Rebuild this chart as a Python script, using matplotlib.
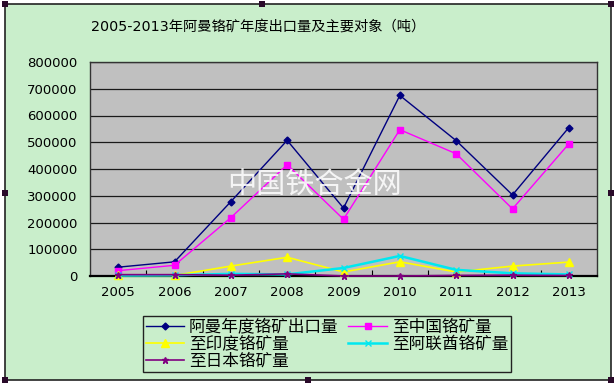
import matplotlib
matplotlib.use("Agg")
import matplotlib.pyplot as plt
from matplotlib.patches import Rectangle

plt.rcParams['font.family'] = ['Noto Sans CJK SC', 'DejaVu Sans']

# data (tonnes)
years = ['2005', '2006', '2007', '2008', '2009', '2010', '2011', '2012', '2013']
oman_total = [33000, 53000, 278000, 507000, 254000, 675000, 506000, 303000, 555000]
to_china = [20000, 40000, 218000, 416000, 212000, 547000, 457000, 251000, 494000]
to_india = [2000, 2000, 37000, 70000, 15000, 53000, 15000, 37000, 52000]
to_uae = [2000, 3000, 8000, 6000, 30000, 75000, 23000, 10000, 6000]
to_japan = [5000, 5000, 3000, 8000, 0, 0, 2000, 3000, 2000]
series_names = ['阿曼年度铬矿出口量', '至中国铬矿量', '至印度铬矿量', '至阿联酋铬矿量', '至日本铬矿量']
y_ticks = [0, 100000, 200000, 300000, 400000, 500000, 600000, 700000, 800000]

green = '#c9eecb'
W, H = 616, 384

fig = plt.figure(figsize=(W / 100, H / 100), dpi=100)
fig.patch.set_facecolor('white')

# chart area frame
fig.patches.append(Rectangle((5 / W, 1 - 380 / H), 606 / W, 376 / H, transform=fig.transFigure,
                             facecolor=green, edgecolor='#222222', lw=1.2, zorder=-5))
# selection handles
for hx, hy in [(5, 4), (611, 4), (5, 380), (611, 380), (5, 193), (611, 193), (262, 4), (308, 380)]:
    fig.patches.append(Rectangle(((hx - 3) / W, 1 - (hy + 3) / H), 6 / W, 6 / H, transform=fig.transFigure,
                                 facecolor='#2a0a2a', edgecolor='none', zorder=10))

ax = fig.add_axes([90 / W, 1 - 276 / H, 507 / W, 214 / H])
ax.set_facecolor('#c0c0c0')

x = list(range(len(years)))
styles = [
    (oman_total, '#000080', 'D', 3.5, 1.0),
    (to_china, '#ff00ff', 's', 5, 1.0),
    (to_india, '#ffff00', '^', 6, 1.2),
    (to_uae, '#00e8f0', 'x', 5, 1.8),
    (to_japan, '#800080', '*', 5, 1.2),
]
handles = []
for (vals, col, mk, ms, lw), name in zip(styles, series_names):
    h, = ax.plot(x, vals, color=col, marker=mk, markersize=ms, lw=lw,
                 markeredgecolor=col, markerfacecolor=col, label=name, clip_on=False, zorder=3)
    handles.append(h)

ax.set_xlim(-0.5, len(years) - 0.5)
ax.set_ylim(0, 800000)
ax.set_yticks(y_ticks)
ax.set_yticklabels([str(v) for v in y_ticks], fontsize=9.5, family='DejaVu Sans')
ax.grid(axis='y', color='#1a1a1a', lw=0.9)
ax.set_axisbelow(True)
ax.tick_params(axis='y', length=0, pad=9)

ax.set_xticks([i + 0.5 for i in range(len(years) - 1)])
ax.set_xticklabels([])
ax.tick_params(axis='x', which='major', direction='in', length=4, color='black')
ax.set_xticks(x, minor=True)
ax.set_xticklabels(years, minor=True, fontsize=9.5, family='DejaVu Sans')
ax.tick_params(axis='x', which='minor', length=0, pad=7)

for s in ax.spines.values():
    s.set_color('#333333')
    s.set_linewidth(1.0)
ax.spines['bottom'].set_color('black')
ax.spines['bottom'].set_linewidth(1.6)

fig.text(258 / W, 1 - 27 / H, '2005-2013年阿曼铬矿年度出口量及主要对象（吨）',
         ha='center', va='center', fontsize=10.3, family=['DejaVu Sans', 'Noto Sans CJK SC'])

# watermark
fig.text(315 / W, 1 - 185 / H, '中国铁合金网', ha='center', va='center',
         fontsize=21, color='white', alpha=0.85, zorder=6)

order = [0, 2, 4, 1, 3]
leg = fig.legend([handles[i] for i in order], [series_names[i] for i in order],
                 ncol=2, loc='upper left', bbox_to_anchor=(143 / W, 1 - 316 / H),
                 fontsize=12, frameon=True, fancybox=False, facecolor=green,
                 edgecolor='#222222', framealpha=1, borderpad=0.15, labelspacing=0.0,
                 handlelength=2.3, handletextpad=0.3, columnspacing=0.6, borderaxespad=0)
leg.get_frame().set_linewidth(1.0)

fig.savefig('out.png', dpi=100, facecolor=fig.get_facecolor())
